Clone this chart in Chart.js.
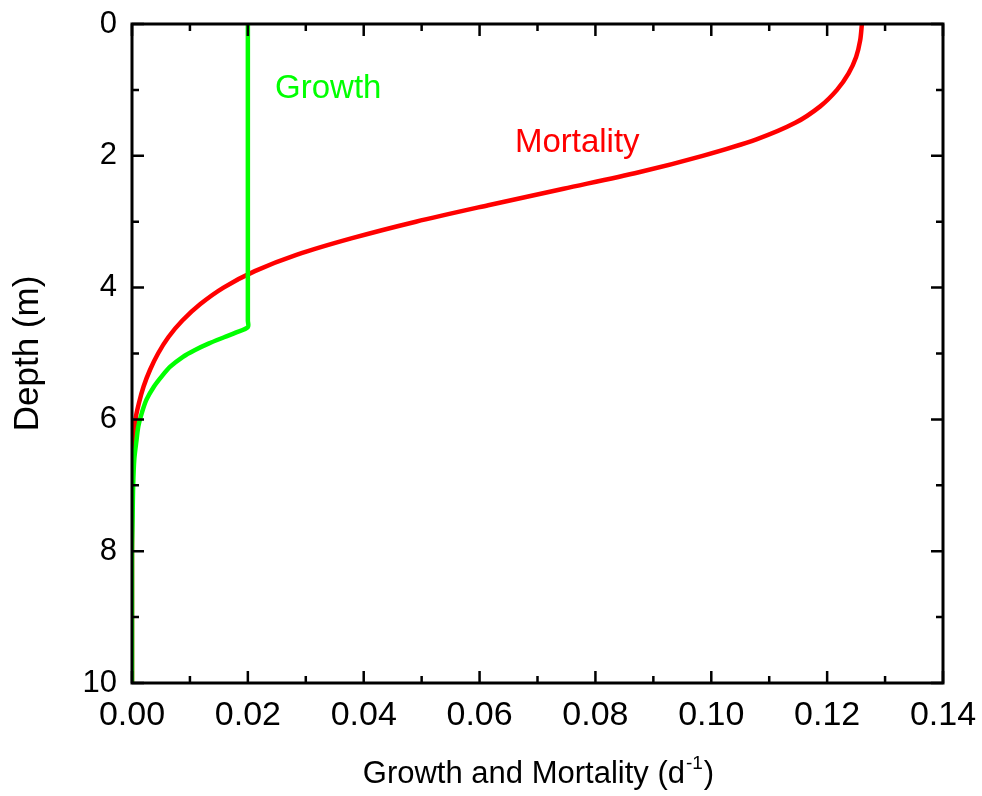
<!DOCTYPE html>
<html>
<head>
<meta charset="utf-8">
<script src="https://cdn.jsdelivr.net/npm/chart.js@4"></script>
<style>
  html, body { margin: 0; padding: 0; background: #fff; }
  #wrap { width: 982px; height: 796px; }
</style>
</head>
<body>
<div id="wrap"><canvas id="chart" width="982" height="796"></canvas></div>
<script>
// depth (m) and rate (d^-1)
const mortalityDepth = [0, 0.25, 0.5, 0.75, 1.0, 1.25, 1.5, 1.75, 2.0, 2.25, 2.5, 2.75, 3.0, 3.25, 3.5, 3.75, 4.0, 4.25, 4.5, 4.75, 5.0, 5.25, 5.5, 5.75, 6.0, 6.5, 7.0, 8.0, 10.0];
const mortalityRate = [0.126, 0.1257, 0.125, 0.1237, 0.1217, 0.1188, 0.1145, 0.1078, 0.0985, 0.0875, 0.0745, 0.0615, 0.049, 0.038, 0.0285, 0.0212, 0.0158, 0.0118, 0.0087, 0.0063, 0.0045, 0.0031, 0.002, 0.0012, 0.0006, 0.0002, 0, 0, 0];

const growthDepth = [0, 2, 4, 4.5, 4.6, 4.68, 4.75, 4.85, 4.95, 5.05, 5.2, 5.35, 5.5, 5.7, 5.9, 6.1, 6.3, 6.6, 7.0, 7.5, 8.0, 10.0];
const growthRate = [0.02, 0.02, 0.02, 0.02, 0.02, 0.018, 0.016, 0.0132, 0.0108, 0.0088, 0.0066, 0.0051, 0.0038, 0.0025, 0.0017, 0.0011, 0.0008, 0.0004, 0.0002, 0.0001, 0, 0];

const xTicks = [0, 0.02, 0.04, 0.06, 0.08, 0.10, 0.12, 0.14];
const yTicks = [0, 2, 4, 6, 8, 10];

// in-plot labels: [text, x, depth, colour]
const curveLabels = [
    ["Growth", 0.0247, 1.12, "#00ff00"],
    ["Mortality", 0.0661, 1.94, "#ff0000"]
];

const FONT = "'Liberation Sans', Arial, sans-serif";

const toPoints = (xs, ys) => xs.map((x, i) => ({ x: x, y: ys[i] }));

// frame, inward ticks (major + minor, mirrored), axis titles and curve labels
const framePlugin = {
    id: "frame",
    afterDraw(chart) {
        const ctx = chart.ctx;
        const a = chart.chartArea;
        const xs = chart.scales.x;
        const ys = chart.scales.y;
        ctx.save();
        ctx.strokeStyle = "#000";
        ctx.lineWidth = 2.5;
        ctx.lineCap = "butt";

        ctx.beginPath();
        xTicks.forEach((v, i) => {
            const px = xs.getPixelForValue(v);
            ctx.moveTo(px, a.bottom); ctx.lineTo(px, a.bottom - 12);
            ctx.moveTo(px, a.top); ctx.lineTo(px, a.top + 12);
            if (i < xTicks.length - 1) {
                const mx = xs.getPixelForValue((v + xTicks[i + 1]) / 2);
                ctx.moveTo(mx, a.bottom); ctx.lineTo(mx, a.bottom - 7);
                ctx.moveTo(mx, a.top); ctx.lineTo(mx, a.top + 7);
            }
        });
        yTicks.forEach((v, i) => {
            const py = ys.getPixelForValue(v);
            ctx.moveTo(a.left, py); ctx.lineTo(a.left + 12, py);
            ctx.moveTo(a.right, py); ctx.lineTo(a.right - 12, py);
            if (i < yTicks.length - 1) {
                const my = ys.getPixelForValue((v + yTicks[i + 1]) / 2);
                ctx.moveTo(a.left, my); ctx.lineTo(a.left + 7, my);
                ctx.moveTo(a.right, my); ctx.lineTo(a.right - 7, my);
            }
        });
        ctx.stroke();

        ctx.lineWidth = 3;
        ctx.strokeRect(a.left, a.top, a.right - a.left, a.bottom - a.top);

        // curve labels
        ctx.font = "33px " + FONT;
        ctx.textAlign = "left";
        ctx.textBaseline = "alphabetic";
        curveLabels.forEach(l => {
            ctx.fillStyle = l[3];
            ctx.fillText(l[0], xs.getPixelForValue(l[1]), ys.getPixelForValue(l[2]));
        });

        // x title with superscript
        ctx.fillStyle = "#000";
        const main = "Growth and Mortality (d";
        const sup = "-1";
        const end = ")";
        ctx.font = "31px " + FONT;
        const w1 = ctx.measureText(main).width;
        const w3 = ctx.measureText(end).width;
        ctx.font = "19px " + FONT;
        const w2 = ctx.measureText(sup).width;
        const cx = (a.left + a.right) / 2;
        const x0 = cx - (w1 + w2 + w3) / 2;
        const base = 783;
        ctx.font = "31px " + FONT;
        ctx.fillText(main, x0, base);
        ctx.font = "19px " + FONT;
        ctx.fillText(sup, x0 + w1 + 1, base - 14);
        ctx.font = "31px " + FONT;
        ctx.fillText(end, x0 + w1 + w2 + 2, base);

        // y title
        ctx.translate(28, (a.top + a.bottom) / 2);
        ctx.rotate(-Math.PI / 2);
        ctx.font = "35px " + FONT;
        ctx.textAlign = "center";
        ctx.textBaseline = "middle";
        ctx.fillText("Depth (m)", 0, 0);
        ctx.restore();
    }
};

new Chart("chart", {
    type: "scatter",
    data: {
        datasets: [{
            label: "Growth",
            data: toPoints(growthRate, growthDepth),
            showLine: true,
            borderColor: "#00ff00",
            backgroundColor: "#00ff00",
            borderWidth: 4.5,
            pointRadius: 0,
            tension: 0.3
        }, {
            label: "Mortality",
            data: toPoints(mortalityRate, mortalityDepth),
            showLine: true,
            borderColor: "#ff0000",
            backgroundColor: "#ff0000",
            borderWidth: 4.5,
            pointRadius: 0,
            tension: 0.3
        }]
    },
    options: {
        responsive: false,
        animation: false,
        events: [],
        layout: { padding: { top: 24, right: 39, left: 0, bottom: 0 } },
        plugins: {
            legend: { display: false },
            tooltip: { enabled: false }
        },
        scales: {
            x: {
                type: "linear",
                min: 0,
                max: 0.14,
                grid: { display: false, drawTicks: false },
                border: { display: false },
                afterBuildTicks: s => { s.ticks = xTicks.map(v => ({ value: v })); },
                ticks: {
                    color: "#000",
                    font: { family: FONT, size: 34 },
                    padding: 12,
                    maxRotation: 0,
                    callback: v => v.toFixed(2)
                },
                afterFit: s => { s.height = 113; s.paddingLeft = 0; s.paddingRight = 0; }
            },
            y: {
                type: "linear",
                reverse: true,
                min: 0,
                max: 10,
                grid: { display: false, drawTicks: false },
                border: { display: false },
                afterBuildTicks: s => { s.ticks = yTicks.map(v => ({ value: v })); },
                ticks: {
                    color: "#000",
                    font: { family: FONT, size: 31 },
                    padding: 15,
                    callback: v => String(v)
                },
                afterFit: s => { s.width = 132; s.paddingTop = 0; s.paddingBottom = 0; }
            }
        }
    },
    plugins: [framePlugin]
});
</script>
</body>
</html>
